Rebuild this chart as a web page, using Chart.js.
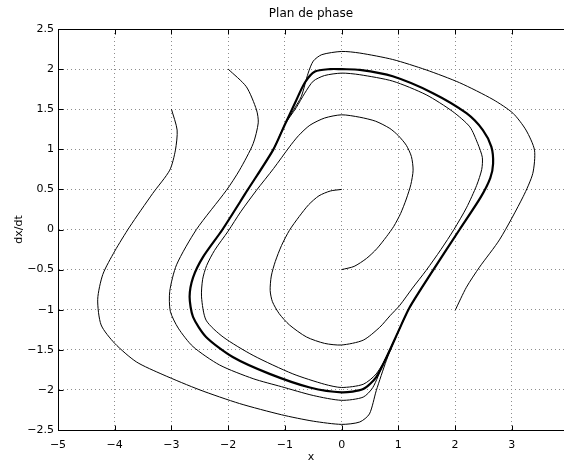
<!DOCTYPE html>
<html lang="fr">
<head>
<meta charset="utf-8">
<title>Plan de phase</title>
<script src="https://cdn.jsdelivr.net/npm/chart.js@4.4.1/dist/chart.umd.min.js"></script>
<style>
  html, body { margin: 0; padding: 0; background: #fff; overflow: hidden; }
  #cadre { width: 564px; height: 463px; }
</style>
</head>
<body>
<div id="cadre"><canvas id="graphePhase" width="564" height="463"></canvas></div>
<script>
// Trajectoires dans le plan (x, dx/dt)
const cycleLimite = [
    [0, 2.0], [0.32, 1.99], [0.9, 1.91], [1.61, 1.70], [2.2, 1.45], [2.49, 1.24],
    [2.64, 1.03], [2.67, 0.82], [2.62, 0.64], [2.45, 0.40], [2.08, 0.0], [1.61, -0.51],
    [1.2, -0.97], [1.0, -1.27], [0.82, -1.55], [0.61, -1.84], [0.38, -1.99], [0, -2.03],
    [-0.56, -1.97], [-1.27, -1.80], [-1.92, -1.59], [-2.39, -1.34], [-2.62, -1.09],
    [-2.68, -0.84], [-2.62, -0.6], [-2.45, -0.35], [-2.1, 0.0], [-1.66, 0.49],
    [-1.21, 0.99], [-1.0, 1.31], [-0.82, 1.58], [-0.65, 1.83], [-0.47, 1.97],
    [-0.2, 2.0], [0, 2.0]
];

// départ en (0, 0.5)
const spirale1 = [
    [0, 0.5], [-0.2, 0.48], [-0.4, 0.42], [-0.58, 0.31], [-0.75, 0.16], [-0.92, -0.01],
    [-1.06, -0.2], [-1.17, -0.4], [-1.24, -0.58], [-1.26, -0.76], [-1.22, -0.9],
    [-1.1, -1.05], [-0.92, -1.19], [-0.62, -1.34], [-0.3, -1.42], [0, -1.44],
    [0.38, -1.38], [0.67, -1.22], [0.86, -1.07], [1.02, -0.95], [1.25, -0.73],
    [1.49, -0.51], [1.75, -0.25], [1.98, 0.0], [2.2, 0.27], [2.38, 0.55], [2.47, 0.75],
    [2.48, 0.9], [2.4, 1.07], [2.26, 1.28], [1.96, 1.47], [1.49, 1.68], [0.9, 1.85],
    [0.32, 1.93], [0, 1.95], [-0.3, 1.92], [-0.5, 1.85], [-0.65, 1.7], [-0.8, 1.52],
    [-1.0, 1.31], [-1.21, 0.99], [-1.66, 0.49]
];

// départ en (0, -0.5)
const spirale2 = [
    [0, -0.5], [0.22, -0.46], [0.44, -0.36], [0.62, -0.24], [0.79, -0.09], [0.92, 0.04],
    [1.04, 0.2], [1.14, 0.38], [1.22, 0.56], [1.26, 0.74], [1.23, 0.91], [1.14, 1.05],
    [1.0, 1.17], [0.85, 1.26], [0.6, 1.35], [0.32, 1.40], [0, 1.43], [-0.3, 1.39],
    [-0.56, 1.30], [-0.76, 1.17], [-0.92, 1.03], [-1.2, 0.76], [-1.5, 0.49],
    [-1.78, 0.22], [-2.0, -0.02], [-2.24, -0.26], [-2.38, -0.45], [-2.45, -0.62],
    [-2.47, -0.84], [-2.39, -1.13], [-2.09, -1.34], [-1.56, -1.57], [-0.86, -1.80],
    [-0.3, -1.93], [0, -1.97], [0.38, -1.93], [0.61, -1.80], [0.82, -1.55],
    [1.0, -1.27], [1.2, -0.97], [1.61, -0.51]
];

// départ en (-2, 2)
const trajA = [
    [-2.0, 2.0], [-1.68, 1.78], [-1.5, 1.49], [-1.47, 1.33], [-1.56, 1.07], [-1.8, 0.74],
    [-2.03, 0.49], [-2.56, 0.0], [-2.91, -0.44], [-3.03, -0.77], [-3.02, -1.02],
    [-2.88, -1.23], [-2.62, -1.46], [-2.15, -1.69], [-1.56, -1.86], [-1.06, -1.96],
    [-0.5, -2.07], [0, -2.13], [0.38, -2.09], [0.55, -1.97], [0.73, -1.68],
    [0.9, -1.42], [1.0, -1.27], [1.2, -0.97], [1.61, -0.51]
];

// départ en (-3, 1.5)
const trajB = [
    [-3.0, 1.5], [-2.9, 1.24], [-2.93, 0.99], [-3.03, 0.74], [-3.33, 0.45], [-3.74, 0.03],
    [-4.0, -0.27], [-4.21, -0.56], [-4.3, -0.87], [-4.24, -1.19], [-4.0, -1.42],
    [-3.62, -1.65], [-3.15, -1.81], [-2.5, -2.0], [-1.8, -2.17], [-1.06, -2.31],
    [-0.5, -2.39], [0, -2.43], [0.32, -2.40], [0.49, -2.30], [0.61, -2.01],
    [0.79, -1.63], [0.92, -1.4], [1.0, -1.27], [1.2, -0.97], [1.61, -0.51]
];

// départ en (2, -1)
const trajC = [
    [2.0, -1.01], [2.2, -0.72], [2.43, -0.47], [2.79, -0.12], [3.2, 0.41], [3.37, 0.70],
    [3.4, 0.99], [3.25, 1.24], [3.02, 1.45], [2.67, 1.62], [2.08, 1.83], [1.49, 1.99],
    [0.9, 2.12], [0.32, 2.20], [0, 2.22], [-0.35, 2.18], [-0.5, 2.10], [-0.59, 1.95],
    [-0.71, 1.66], [-0.84, 1.5], [-1.0, 1.31], [-1.21, 0.99], [-1.66, 0.49]
];

const graduationsX = [-5, -4, -3, -2, -1, 0, 1, 2, 3];
const graduationsY = [-2.5, -2, -1.5, -1, -0.5, 0, 0.5, 1, 1.5, 2, 2.5];

// la fenêtre coupe l'axe x juste avant 4
const xMin = -5, xMax = 3.92;

const police = "'DejaVu Sans', sans-serif";

function versPoints(tab) {
    return tab.map(p => ({ x: p[0], y: p[1] }));
}

function serie(tab, epaisseur) {
    return {
        data: versPoints(tab),
        showLine: true,
        borderColor: '#000',
        backgroundColor: '#000',
        borderWidth: epaisseur,
        pointRadius: 0,
        tension: 0.25,
        fill: false
    };
}

// cadre noir + petites graduations intérieures (style matlab)
const cadrePlugin = {
    id: 'cadre',
    afterDatasetsDraw(chart) {
        const { ctx, chartArea: a, scales } = chart;
        ctx.save();
        ctx.strokeStyle = '#000';
        ctx.lineWidth = 1;
        const g = Math.round(a.left) + 0.5, d = Math.round(a.right) + 0.5;
        const h = Math.round(a.top) + 0.5, b = Math.round(a.bottom) + 0.5;
        ctx.beginPath();
        ctx.rect(g, h, d - g, b - h);
        graduationsX.forEach(v => {
            const px = Math.round(scales.x.getPixelForValue(v)) + 0.5;
            ctx.moveTo(px, b); ctx.lineTo(px, b - 5);
            ctx.moveTo(px, h); ctx.lineTo(px, h + 5);
        });
        graduationsY.forEach(v => {
            const py = Math.round(scales.y.getPixelForValue(v)) + 0.5;
            ctx.moveTo(g, py); ctx.lineTo(g + 5, py);
        });
        ctx.stroke();
        ctx.restore();
    }
};

function etiquette(v) {
    return String(v).replace('-', '\u2212');
}

const ctx = document.getElementById('graphePhase');
new Chart(ctx, {
    type: 'scatter',
    data: {
        datasets: [
            serie(cycleLimite, 2.2),
            serie(spirale1, 1),
            serie(spirale2, 1),
            serie(trajA, 1),
            serie(trajB, 1),
            serie(trajC, 1)
        ]
    },
    options: {
        responsive: false,
        animation: false,
        layout: { padding: 0 },
        plugins: {
            legend: { display: false },
            tooltip: { enabled: false }
        },
        scales: {
            // axe du haut : sert seulement à centrer le titre sur l'axe complet (-5 à 4)
            titre: {
                type: 'linear',
                position: 'top',
                min: xMin,
                max: xMax,
                afterFit: s => { s.height = 29; s.paddingRight = 0; },
                ticks: { display: false },
                grid: { display: false, drawTicks: false },
                border: { display: false },
                title: {
                    display: true,
                    text: 'Plan de phase',
                    color: '#000',
                    font: { family: police, size: 12 },
                    padding: { top: 7, bottom: 0 }
                }
            },
            x: {
                type: 'linear',
                min: xMin,
                max: xMax,
                afterBuildTicks: s => { s.ticks = graduationsX.map(v => ({ value: v })); },
                afterFit: s => { s.height = 33; },
                grid: { color: '#8c8c8c', drawTicks: false },
                border: { display: true, color: '#000', width: 1, dash: [1, 3] },
                ticks: {
                    color: '#000',
                    padding: 9,
                    maxRotation: 0,
                    font: { family: police, size: 11 },
                    callback: v => etiquette(v)
                },
                title: {
                    display: true,
                    text: 'x',
                    color: '#000',
                    font: { family: police, size: 11 },
                    padding: { top: 0, bottom: -1 }
                }
            },
            y: {
                type: 'linear',
                min: -2.5,
                max: 2.5,
                afterBuildTicks: s => { s.ticks = graduationsY.map(v => ({ value: v })); },
                afterFit: s => { s.width = 58; },
                grid: { color: '#8c8c8c', drawTicks: false },
                border: { display: true, color: '#000', width: 1, dash: [1, 3] },
                ticks: {
                    color: '#000',
                    padding: 4,
                    font: { family: police, size: 11 },
                    callback: v => etiquette(v)
                },
                title: {
                    display: true,
                    text: 'dx/dt',
                    color: '#000',
                    font: { family: police, size: 11 },
                    padding: { top: 13, bottom: 0 }
                }
            }
        }
    },
    plugins: [cadrePlugin]
});
</script>
</body>
</html>
